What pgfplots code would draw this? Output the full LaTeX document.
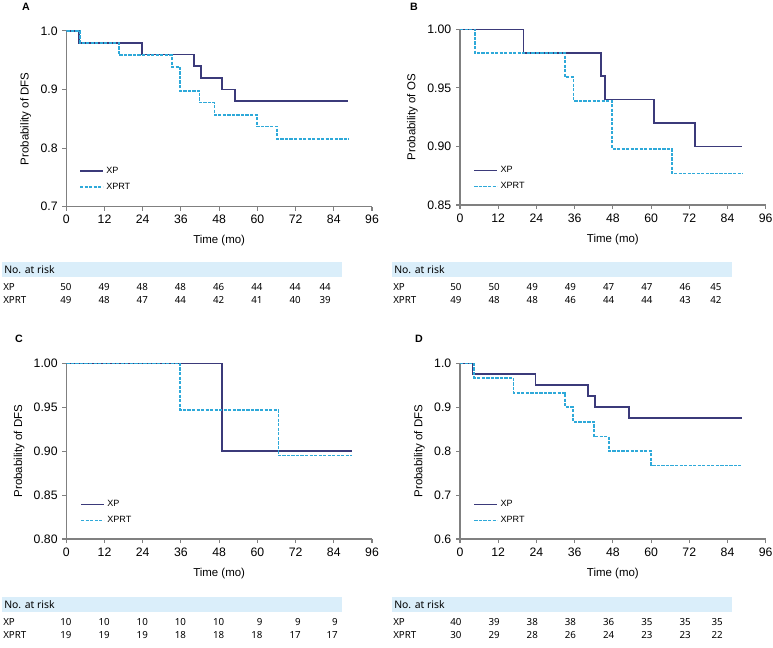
\documentclass[border=0pt]{standalone}
\usepackage{fontspec}
\setmainfont{Liberation Sans}
\newfontfamily\tabfont{Noto Sans}
\usepackage{pgfplots}
\pgfplotsset{compat=1.18}

\definecolor{xpcol}{HTML}{3B3A7A}
\definecolor{xprtcol}{HTML}{2EA9D9}
\definecolor{band}{HTML}{DAEEFA}
\definecolor{axgray}{HTML}{808080}

\def\u{0.75pt}

\pgfplotsset{
  km/.style={
    scale only axis, width=229.3pt, height=131.8pt,
    xmin=0, xmax=96, xtick={0,12,...,96},
    axis lines*=left,
    axis line style={axgray, line width=0.8pt},
    tick style={axgray, line width=0.8pt},
    tick align=outside, major tick length=3pt,
    ticklabel style={font=\fontsize{9.2}{11}\selectfont},
    /pgf/number format/assume math mode=true,
    xlabel={Time (mo)},
    label style={font=\fontsize{8.6}{10}\selectfont},
    xlabel style={at={(axis description cs:0.5,0)}, anchor=center, yshift=-25.7pt},
    legend style={draw=none, fill=none, font=\fontsize{6.8}{8}\selectfont,
      anchor=north west, inner sep=0pt, row sep=2pt},
    legend cell align=left,
    legend image code/.code={\draw[##1] (0pt,0pt) -- (17pt,0pt);},
  },
  xp/.style={xpcol, line width=1.25pt, const plot},
  xprt/.style={xprtcol, line width=1.25pt, dash pattern=on 2.4pt off 1pt, const plot},
}

% risk table: #1 x offset (px), #2 top of band (px), #3 last column right edge (px), #4 XP, #5 XPRT
\newcommand\risktable[5]{%
  \fill[band] ({(#1+2)*\u},{-#2*\u}) rectangle ({(#1+342)*\u},{-(#2+15.6)*\u});
  \node[font=\tabfont\fontsize{7.8}{9}\selectfont, anchor=west, inner sep=0pt] at ({(#1+4)*\u},{-(#2+8)*\u}) {No. at risk};
  \node[font=\tabfont\fontsize{7.3}{8}\selectfont, anchor=west, inner sep=0pt] at ({(#1+3)*\u},{-(#2+25.6)*\u}) {XP};
  \node[font=\tabfont\fontsize{7.3}{8}\selectfont, anchor=west, inner sep=0pt] at ({(#1+3)*\u},{-(#2+38.3)*\u}) {XPRT};
  \foreach \v [count=\i from 0] in {#4} {
    \pgfmathsetmacro\xx{\i<7 ? 71.7+38.2*\i : #3}
    \node[font=\tabfont\fontsize{7.3}{8}\selectfont, anchor=east, inner sep=0pt] at ({(#1+\xx)*\u},{-(#2+25.6)*\u}) {\v};
  }
  \foreach \v [count=\i from 0] in {#5} {
    \pgfmathsetmacro\xx{\i<7 ? 71.7+38.2*\i : #3}
    \node[font=\tabfont\fontsize{7.3}{8}\selectfont, anchor=east, inner sep=0pt] at ({(#1+\xx)*\u},{-(#2+38.3)*\u}) {\v};
  }
}

\begin{document}
\begin{tikzpicture}
\useasboundingbox (0,0) rectangle ({773*\u},{-648*\u});

% ---------- A ----------
\begin{axis}[km, at={({66.3*\u},{-206.7*\u})}, anchor=south west,
    ymin=0.7, ymax=1.0, ytick={0.7,0.8,0.9,1.0},
    yticklabel style={/pgf/number format/.cd, fixed, fixed zerofill, precision=1},
    ylabel={Probability of DFS},
    ylabel style={at={(axis description cs:-0.133,0.5)}, anchor=center},
    legend style={at={(axis description cs:0.0415,0.243)}}]
  \addplot[xp] coordinates {(0,1)(4.0,0.98)(23.7,0.96)(40.1,0.94)(42.4,0.92)(48.8,0.90)(53.0,0.88)(88.4,0.88)};
  \addlegendentry{XP}
  \addplot[xprt] coordinates {(0,1)(4.3,0.9796)(16.5,0.959)(33.1,0.939)(35.7,0.898)(41.8,0.878)(46.5,0.857)(59.8,0.837)(66.1,0.816)(88.6,0.816)};
  \addlegendentry{XPRT}
\end{axis}

% ---------- B ----------
\begin{axis}[km, at={({460*\u},{-205*\u})}, anchor=south west,
    ymin=0.85, ymax=1.0, ytick={0.85,0.90,0.95,1.00},
    yticklabel style={/pgf/number format/.cd, fixed, fixed zerofill, precision=2},
    ylabel={Probability of OS},
    ylabel style={at={(axis description cs:-0.156,0.5)}, anchor=center},
    legend style={at={(axis description cs:0.0435,0.237)}}]
  \addplot[xp] coordinates {(0,1)(19.9,0.98)(44.3,0.96)(45.6,0.94)(60.9,0.92)(73.8,0.90)(88.7,0.90)};
  \addlegendentry{XP}
  \addplot[xprt] coordinates {(0,1)(4.7,0.9796)(33.0,0.959)(35.6,0.939)(47.7,0.898)(66.5,0.877)(88.7,0.877)};
  \addlegendentry{XPRT}
\end{axis}

% ---------- C ----------
\begin{axis}[km, at={({66.3*\u},{-539*\u})}, anchor=south west,
    ymin=0.8, ymax=1.0, ytick={0.80,0.85,0.90,0.95,1.00},
    yticklabel style={/pgf/number format/.cd, fixed, fixed zerofill, precision=2},
    ylabel={Probability of DFS},
    ylabel style={at={(axis description cs:-0.154,0.5)}, anchor=center},
    legend style={at={(axis description cs:0.045,0.237)}}]
  \addplot[xp] coordinates {(0,1)(48.8,0.90)(89.6,0.90)};
  \addlegendentry{XP}
  \addplot[xprt] coordinates {(0,1)(35.7,0.947)(66.6,0.895)(89.6,0.895)};
  \addlegendentry{XPRT}
\end{axis}

% ---------- D ----------
\begin{axis}[km, at={({460*\u},{-539*\u})}, anchor=south west,
    ymin=0.6, ymax=1.0, ytick={0.6,0.7,0.8,0.9,1.0},
    yticklabel style={/pgf/number format/.cd, fixed, fixed zerofill, precision=1},
    ylabel={Probability of DFS},
    ylabel style={at={(axis description cs:-0.133,0.5)}, anchor=center},
    legend style={at={(axis description cs:0.0435,0.237)}}]
  \addplot[xp] coordinates {(0,1)(3.9,0.975)(23.7,0.95)(40.1,0.925)(42.4,0.90)(53.0,0.875)(88.7,0.875)};
  \addlegendentry{XP}
  \addplot[xprt] coordinates {(0,1)(4.4,0.967)(16.8,0.933)(33.0,0.90)(35.4,0.867)(42.0,0.833)(46.7,0.80)(60.0,0.767)(88.1,0.767)};
  \addlegendentry{XPRT}
\end{axis}

% panel letters
\node[font=\bfseries\fontsize{8}{9}\selectfont] at ({26*\u},{-7*\u}) {A};
\node[font=\bfseries\fontsize{8}{9}\selectfont] at ({414*\u},{-6.5*\u}) {B};
\node[font=\bfseries\fontsize{8}{9}\selectfont] at ({19*\u},{-339*\u}) {C};
\node[font=\bfseries\fontsize{8}{9}\selectfont] at ({419*\u},{-339*\u}) {D};

% numbers at risk
\risktable{0}{261.7}{331}{50,49,48,48,46,44,44,44}{49,48,47,44,42,41,40,39}
\risktable{390}{261.7}{331.7}{50,50,49,49,47,47,46,45}{49,48,48,46,44,44,43,42}
\risktable{0}{596.7}{338}{10,10,10,10,10,9,9,9}{19,19,19,18,18,18,17,17}
\risktable{390}{596.7}{333}{40,39,38,38,36,35,35,35}{30,29,28,26,24,23,23,22}
\end{tikzpicture}
\end{document}
